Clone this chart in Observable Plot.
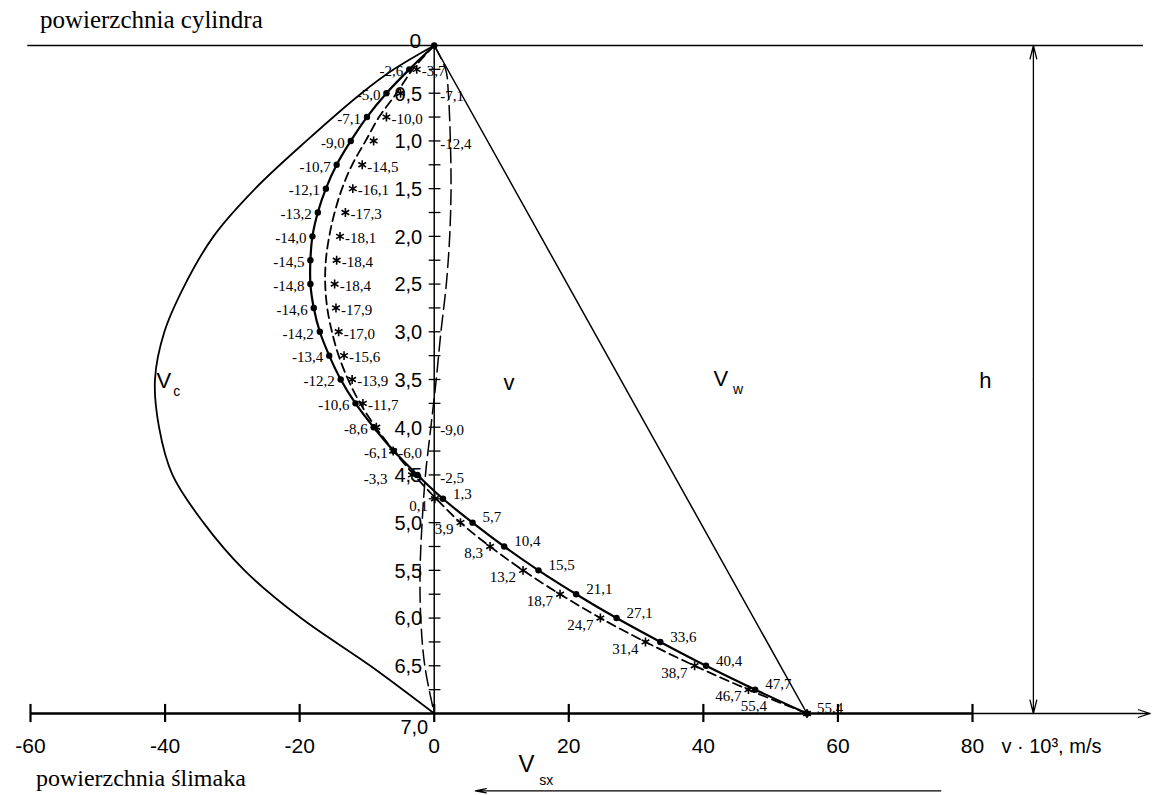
<!DOCTYPE html>
<html>
<head>
<meta charset="utf-8">
<script src="https://cdn.jsdelivr.net/npm/d3@7"></script>
<script src="https://cdn.jsdelivr.net/npm/@observablehq/plot@0.6"></script>
<style>
  html, body { margin: 0; padding: 0; background: #fff; }
  #chart { width: 1159px; height: 795px; }
</style>
</head>
<body>
<div id="chart"></div>
<script>
// ---------------- data ----------------
// depth levels h (rows of the table), step 0.25
const hLevels = [0, 0.25, 0.5, 0.75, 1.0, 1.25, 1.5, 1.75, 2.0, 2.25, 2.5, 2.75, 3.0, 3.25, 3.5,
                 3.75, 4.0, 4.25, 4.5, 4.75, 5.0, 5.25, 5.5, 5.75, 6.0, 6.25, 6.5, 6.75, 7.0];
// solid curve with dots
const solidV = [0, -3.7, -7.1, -10.0, -12.4, -14.5, -16.1, -17.3, -18.1, -18.4, -18.4, -17.9, -17.0, -15.6,
                -13.9, -11.7, -9.0, -6.0, -2.5, 1.3, 5.7, 10.4, 15.5, 21.1, 27.1, 33.6, 40.4, 47.7, 55.4];
// measured points (asterisks)
const markV = [0, -2.6, -5.0, -7.1, -9.0, -10.7, -12.1, -13.2, -14.0, -14.5, -14.8, -14.6, -14.2, -13.4,
               -12.2, -10.6, -8.6, -6.1, -3.3, 0.1, 3.9, 8.3, 13.2, 18.7, 24.7, 31.4, 38.7, 46.7, 55.4];
// dashed curve
const dashV = [0, -3.2, -5.6, -8.2, -10.2, -12.2, -13.7, -14.8, -15.6, -16.1, -16.2, -15.9, -15.2, -14.2,
               -12.8, -11.0, -8.7, -6.0, -3.0, 0.3, 3.9, 8.3, 13.2, 18.7, 24.7, 31.4, 38.7, 46.7, 55.4];
// V_c curve
const vcH = [0, 0.25, 0.5, 1.0, 1.5, 2.0, 2.5, 3.0, 3.5, 4.0, 4.5, 5.0, 5.5, 6.0, 6.5, 7.0];
const vcV = [0, -6.0, -10.8, -19.0, -26.6, -32.8, -37.0, -40.1, -41.5, -40.9, -38.9, -34.3, -28.2, -19.8, -9.5, 0];
// v curve (long dashes)
const vH = [0, 0.25, 0.5, 1.0, 1.5, 2.0, 2.5, 3.0, 3.5, 4.0, 4.5, 5.0, 5.5, 6.0, 6.5, 7.0];
const vV = [0, 1.7, 2.1, 2.4, 2.5, 2.3, 1.8, 1.0, 0.3, -0.5, -1.3, -1.8, -2.1, -2.0, -1.4, 0];
// V_w straight line
const vwH = [0, 7];
const vwV = [0, 55.4];
// axes
const xTicks = [-60, -40, -20, 0, 20, 40, 60, 80];
const yMinor = [0.25, 0.5, 0.75, 1.0, 1.25, 1.5, 1.75, 2.0, 2.25, 2.5, 2.75, 3.0, 3.25, 3.5,
                3.75, 4.0, 4.25, 4.5, 4.75, 5.0, 5.25, 5.5, 5.75, 6.0, 6.25, 6.5, 6.75];
const yLabels = [0.5, 1.0, 1.5, 2.0, 2.5, 3.0, 3.5, 4.0, 4.5, 5.0, 5.5, 6.0, 6.5];

// ---------------- build tables ----------------
const fmt = d => d.toFixed(1).replace(".", ",");
const rows = hLevels.map((h, i) => ({h, s: solidV[i], m: markV[i], d: dashV[i], i}));
const upper = rows.filter(r => r.i >= 1 && r.h <= 4.5);
const moved = new Set([0.5, 1.0, 4.0, 4.5]);
const upperLeft = upper.filter(r => r.h !== 4.5);
const upperRight = upper.filter(r => !moved.has(r.h));
const upperRightAxis = upper.filter(r => moved.has(r.h));
const row45 = upper.filter(r => r.h === 4.5);
const lower = rows.filter(r => r.h > 4.5);
const lowerLeft = lower.filter(r => r.h < 7);
const lastRow = rows.filter(r => r.h === 7);
const vc = vcH.map((h, i) => ({h, v: vcV[i]}));
const vv = vH.map((h, i) => ({h, v: vV[i]}));
const vw = vwH.map((h, i) => ({h, v: vwV[i]}));

const serif = "Liberation Serif, Times New Roman, serif";
const sans = "Liberation Sans, Arial, sans-serif";

const annotations = [
  {x: -40.2, y: 3.51, t: "V", size: 22},
  {x: 11.1, y: 3.54, t: "v", size: 22},
  {x: 42.6, y: 3.49, t: "V", size: 22},
  {x: 81.9, y: 3.52, t: "h", size: 22},
  {x: 13.7, y: 7.53, t: "V", size: 24}
];
const subs = [
  {x: -38.8, y: 3.63, t: "c"},
  {x: 44.4, y: 3.61, t: "w"},
  {x: 15.6, y: 7.70, t: "sx"}
];

const chart = Plot.plot({
  width: 1159,
  height: 795,
  marginTop: 0, marginRight: 0, marginBottom: 0, marginLeft: 0,
  style: {fontFamily: sans, background: "#fff", color: "#000", overflow: "visible"},
  x: {domain: [-60, 80], range: [30, 972], axis: null},
  y: {domain: [0, 7], range: [45, 713], axis: null},
  marks: [
    // surfaces / axes
    Plot.ruleY([0], {x1: -60.4, x2: 105.4, stroke: "#000", strokeWidth: 1.6}),
    Plot.ruleX([0], {y1: 0, y2: 7, stroke: "#000", strokeWidth: 1.5}),
    Plot.ruleY(yMinor, {y: d => d, x1: -0.75, x2: 1.0, stroke: "#000", strokeWidth: 1.3}),
    Plot.text(yLabels, {x: 0, y: d => d, text: fmt, dx: -12, dy: 1, textAnchor: "end", fontSize: 20, fontFamily: sans}),
    Plot.text([0], {x: 0, y: 0, text: d => "0", dx: -13, dy: -4, textAnchor: "end", fontSize: 21, fontFamily: sans}),
    Plot.text([7], {x: 0, y: 7, text: d => fmt(d), dx: -6, dy: 14, textAnchor: "end", fontSize: 20, fontFamily: sans}),
    Plot.ruleY([7], {x1: -60, x2: 80, stroke: "#000", strokeWidth: 2.4}),
    Plot.arrow([7], {x1: 80, x2: 106.4, y1: 7, y2: 7, stroke: "#000", strokeWidth: 1.3, headLength: 14, headAngle: 36}),
    Plot.ruleX(xTicks, {x: d => d, y1: 6.905, y2: 7.095, stroke: "#000", strokeWidth: 2.2}),
    Plot.text(xTicks, {x: d => d, y: 7, text: d => String(d), dy: 33, fontSize: 21, fontFamily: sans}),
    Plot.text(["v · 10³, m/s"], {x: 84.3, y: 7, text: d => d, dy: 33, textAnchor: "start", fontSize: 20, fontFamily: sans}),

    // h dimension
    Plot.arrow([0], {x1: 89.05, x2: 89.05, y1: 3.5, y2: 0, stroke: "#000", strokeWidth: 1.3, headLength: 16, headAngle: 28}),
    Plot.arrow([0], {x1: 89.05, x2: 89.05, y1: 3.5, y2: 7, stroke: "#000", strokeWidth: 1.3, headLength: 16, headAngle: 28}),
    // V_sx arrow
    Plot.arrow([0], {x1: 75.3, x2: 6.1, y1: 7.81, y2: 7.81, stroke: "#000", strokeWidth: 1.2, headLength: 14, headAngle: 22}),

    // curves
    Plot.line(vc, {x: "v", y: "h", curve: "catmull-rom", stroke: "#000", strokeWidth: 1.8}),
    Plot.line(vw, {x: "v", y: "h", stroke: "#000", strokeWidth: 1.5}),
    Plot.line(vv, {x: "v", y: "h", curve: "catmull-rom", stroke: "#000", strokeWidth: 1.5, strokeDasharray: "15,6"}),
    Plot.line(rows, {x: "d", y: "h", curve: "catmull-rom", stroke: "#000", strokeWidth: 1.8, strokeDasharray: "9,5"}),
    Plot.line(rows, {x: "s", y: "h", curve: "catmull-rom", stroke: "#000", strokeWidth: 2.2}),
    Plot.dot(rows, {x: "s", y: "h", r: 3.2, fill: "#000", stroke: "none"}),
    Plot.dot(rows.filter(r => r.i >= 1), {x: "m", y: "h", r: 4.2, symbol: "asterisk", stroke: "#000", strokeWidth: 1.6}),

    // value labels, upper part
    Plot.text(upperLeft, {x: "s", y: "h", text: r => fmt(r.m), dx: -6, dy: 2, textAnchor: "end", fontSize: 15, fontFamily: serif}),
    Plot.text(upperRight, {x: "m", y: "h", text: r => fmt(r.s), dx: 5, dy: 2, textAnchor: "start", fontSize: 15, fontFamily: serif}),
    Plot.text(upperRightAxis, {x: 0, y: "h", text: r => fmt(r.s), dx: 6, dy: 3, textAnchor: "start", fontSize: 15, fontFamily: serif}),
    Plot.text(row45, {x: "s", y: "h", text: r => fmt(r.m), dx: -30, dy: 4, textAnchor: "end", fontSize: 15, fontFamily: serif}),
    // value labels, lower part
    Plot.text(lower, {x: "s", y: "h", text: r => fmt(r.s), dx: 10, dy: -5, textAnchor: "start", fontSize: 15, fontFamily: serif}),
    Plot.text(lowerLeft, {x: "m", y: "h", text: r => fmt(r.m), dx: -7, dy: 7, textAnchor: "end", fontSize: 15, fontFamily: serif}),
    Plot.text(lastRow, {x: "m", y: "h", text: r => fmt(r.m), dx: -40, dy: -7, textAnchor: "end", fontSize: 15, fontFamily: serif}),

    // curve names and surfaces
    Plot.text(annotations, {x: "x", y: "y", text: "t", fontSize: d => d.size, fontFamily: sans}),
    Plot.text(subs, {x: "x", y: "y", text: "t", fontSize: 14, textAnchor: "start", fontFamily: sans}),
    Plot.text(["powierzchnia cylindra"], {x: -58.6, y: -0.27, text: d => d, textAnchor: "start", fontSize: 25, fontFamily: serif}),
    Plot.text(["powierzchnia ślimaka"], {x: -59.2, y: 7.68, text: d => d, textAnchor: "start", fontSize: 24, fontFamily: serif})
  ]
});
document.getElementById("chart").appendChild(chart);
</script>
</body>
</html>
